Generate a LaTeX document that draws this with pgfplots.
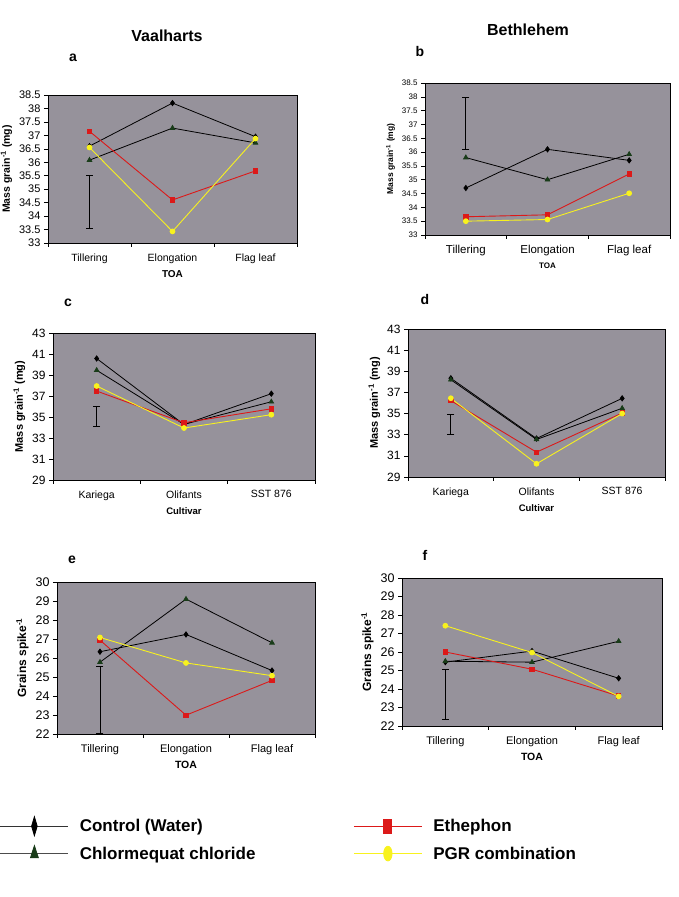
\documentclass[border=0pt]{standalone}
\usepackage{pgfplots}
\pgfplotsset{compat=1.18}
\usepackage{fontspec}
\setmainfont{Liberation Sans}
\definecolor{plotbg}{RGB}{150,146,155}
\definecolor{ethred}{RGB}{220,25,25}
\definecolor{pgryel}{RGB}{248,242,30}
\definecolor{ccdark}{RGB}{25,60,25}

\pgfplotsset{
  panel/.style={
    scale only axis, anchor=south west, clip=false,
    axis background/.style={fill=plotbg},
    axis line style={black, line width=0.7pt},
    xmin=-0.5, xmax=2.5,
    xtick={0,1,2},
    major x tick style={draw=none},
    minor xtick={-0.5,0.5,1.5,2.5},
    minor x tick style={black, line width=0.6pt},
    minor tick length=4pt,
    major tick length=4pt,
    tick align=outside, xtick pos=bottom, ytick pos=left,
    y tick style={black, line width=0.6pt},
    /pgf/number format/assume math mode=true,
    xticklabel style={yshift=-3pt},
  },
  ctrl/.style={black, line width=0.8pt, mark=diamond*, mark size=2.6pt, mark options={solid, fill=black}},
  cc/.style={black, line width=0.8pt, mark=triangle*, mark size=2.6pt, mark options={solid, fill=ccdark, draw=ccdark}},
  eth/.style={ethred, line width=0.9pt, mark=square*, mark size=2.2pt, mark options={solid, fill=ethred, draw=ethred}},
  pgr/.style={pgryel, line width=0.9pt, mark=*, mark size=2.4pt, mark options={solid, fill=pgryel, draw=pgryel}},
  errbar/.style={black, line width=0.8pt, mark=-, mark size=3.5pt, mark options={solid}},
}

\begin{document}
\begin{tikzpicture}
\useasboundingbox (0pt,0pt) rectangle (678pt,897pt);

% titles and letters
\node[font=\bfseries\fontsize{16}{19}\selectfont] at (167pt,861pt) {Vaalharts};
\node[font=\bfseries\fontsize{16}{19}\selectfont] at (528pt,867pt) {Bethlehem};
\node[font=\bfseries\fontsize{14}{16}\selectfont] at (73pt,839pt) {a};
\node[font=\bfseries\fontsize{14}{16}\selectfont] at (420pt,845pt) {b};
\node[font=\bfseries\fontsize{14}{16}\selectfont] at (68pt,594pt) {c};
\node[font=\bfseries\fontsize{14}{16}\selectfont] at (425pt,597pt) {d};
\node[font=\bfseries\fontsize{14}{16}\selectfont] at (72pt,337pt) {e};
\node[font=\bfseries\fontsize{14}{16}\selectfont] at (425pt,342pt) {f};

% panel a
\begin{axis}[panel, at={(48pt,654pt)}, width=249pt, height=148pt,
  ymin=33, ymax=38.5, ytick={33,33.5,34,34.5,35,35.5,36,36.5,37,37.5,38,38.5},
  xticklabels={Tillering,Elongation,Flag leaf},
  yticklabel style={font=\fontsize{11}{13}\selectfont},
  xticklabel style={font=\fontsize{10.5}{12}\selectfont},
  xlabel={\textbf{TOA}}, xlabel style={font=\fontsize{10}{12}\selectfont},
  ylabel={\textbf{Mass grain\textsuperscript{-1} (mg)}}, ylabel style={font=\fontsize{10.5}{12}\selectfont},
]
\addplot[ctrl] coordinates {(0,36.6) (1,38.2) (2,36.95)};
\addplot[cc] coordinates {(0,36.08) (1,37.27) (2,36.72)};
\addplot[eth] coordinates {(0,37.15) (1,34.6) (2,35.68)};
\addplot[pgr] coordinates {(0,36.55) (1,33.43) (2,36.88)};
\addplot[errbar] coordinates {(0,33.55) (0,35.5)};
\end{axis}

% panel b
\begin{axis}[panel, at={(425pt,662pt)}, width=245pt, height=152pt,
  ymin=33, ymax=38.5, ytick={33,33.5,34,34.5,35,35.5,36,36.5,37,37.5,38,38.5},
  xticklabels={Tillering,Elongation,Flag leaf},
  yticklabel style={font=\fontsize{8}{9}\selectfont},
  xticklabel style={font=\fontsize{11.5}{13}\selectfont},
  xlabel={\textbf{TOA}}, xlabel style={font=\fontsize{8}{9}\selectfont},
  ylabel={\textbf{Mass grain\textsuperscript{-1} (mg)}}, ylabel style={font=\fontsize{8.5}{10}\selectfont},
]
\addplot[ctrl] coordinates {(0,34.7) (1,36.1) (2,35.7)};
\addplot[cc] coordinates {(0,35.8) (1,35.0) (2,35.92)};
\addplot[eth] coordinates {(0,33.66) (1,33.73) (2,35.21)};
\addplot[pgr] coordinates {(0,33.5) (1,33.56) (2,34.51)};
\addplot[errbar] coordinates {(0,36.08) (0,37.98)};
\end{axis}

% panel c
\begin{axis}[panel, at={(53pt,417pt)}, width=262pt, height=147pt,
  ymin=29, ymax=43, ytick={29,31,33,35,37,39,41,43},
  xticklabels={Kariega,Olifants,SST 876},
  yticklabel style={font=\fontsize{12}{14}\selectfont},
  xticklabel style={font=\fontsize{10.5}{12}\selectfont},
  xlabel={\textbf{Cultivar}}, xlabel style={font=\fontsize{9.5}{11}\selectfont},
  ylabel={\textbf{Mass grain\textsuperscript{-1} (mg)}}, ylabel style={font=\fontsize{11}{13}\selectfont},
]
\addplot[ctrl] coordinates {(0,40.57) (1,34.28) (2,37.22)};
\addplot[cc] coordinates {(0,39.45) (1,34.3) (2,36.45)};
\addplot[eth] coordinates {(0,37.47) (1,34.45) (2,35.78)};
\addplot[pgr] coordinates {(0,37.95) (1,33.95) (2,35.22)};
\addplot[errbar] coordinates {(0,34.1) (0,36.04)};
\end{axis}

% panel d
\begin{axis}[panel, at={(408pt,420pt)}, width=257pt, height=148pt,
  ymin=29, ymax=43, ytick={29,31,33,35,37,39,41,43},
  xticklabels={Kariega,Olifants,SST 876},
  yticklabel style={font=\fontsize{12}{14}\selectfont},
  xticklabel style={font=\fontsize{10.5}{12}\selectfont},
  xlabel={\textbf{Cultivar}}, xlabel style={font=\fontsize{9.5}{11}\selectfont},
  ylabel={\textbf{Mass grain\textsuperscript{-1} (mg)}}, ylabel style={font=\fontsize{11}{13}\selectfont},
]
\addplot[ctrl] coordinates {(0,38.34) (1,32.64) (2,36.44)};
\addplot[cc] coordinates {(0,38.2) (1,32.55) (2,35.5)};
\addplot[eth] coordinates {(0,36.22) (1,31.35) (2,35.05)};
\addplot[pgr] coordinates {(0,36.45) (1,30.25) (2,35.0)};
\addplot[errbar] coordinates {(0,33.05) (0,34.9)};
\end{axis}

% panel e
\begin{axis}[panel, at={(57pt,163pt)}, width=258pt, height=152pt,
  ymin=22, ymax=30, ytick={22,23,24,25,26,27,28,29,30},
  xticklabels={Tillering,Elongation,Flag leaf},
  yticklabel style={font=\fontsize{12.5}{14}\selectfont},
  xticklabel style={font=\fontsize{11}{13}\selectfont},
  xlabel={\textbf{TOA}}, xlabel style={font=\fontsize{10.5}{12}\selectfont},
  ylabel={\textbf{Grains spike\textsuperscript{-1}}}, ylabel style={font=\fontsize{12}{14}\selectfont},
]
\addplot[ctrl] coordinates {(0,26.33) (1,27.24) (2,25.34)};
\addplot[cc] coordinates {(0,25.78) (1,29.1) (2,26.8)};
\addplot[eth] coordinates {(0,26.94) (1,22.99) (2,24.82)};
\addplot[pgr] coordinates {(0,27.08) (1,25.74) (2,25.07)};
\addplot[errbar] coordinates {(0,22.05) (0,25.55)};
\end{axis}

% panel f
\begin{axis}[panel, at={(402pt,171pt)}, width=260pt, height=148pt,
  ymin=22, ymax=30, ytick={22,23,24,25,26,27,28,29,30},
  xticklabels={Tillering,Elongation,Flag leaf},
  yticklabel style={font=\fontsize{12.5}{14}\selectfont},
  xticklabel style={font=\fontsize{11}{13}\selectfont},
  xlabel={\textbf{TOA}}, xlabel style={font=\fontsize{10.5}{12}\selectfont},
  ylabel={\textbf{Grains spike\textsuperscript{-1}}}, ylabel style={font=\fontsize{12}{14}\selectfont},
]
\addplot[ctrl] coordinates {(0,25.45) (1,26.05) (2,24.58)};
\addplot[cc] coordinates {(0,25.5) (1,25.45) (2,26.58)};
\addplot[eth] coordinates {(0,26.0) (1,25.07) (2,23.62)};
\addplot[pgr] coordinates {(0,27.42) (1,25.97) (2,23.6)};
\addplot[errbar] coordinates {(0,22.36) (0,25.05)};
\end{axis}

% legend
\begin{axis}[hide axis, scale only axis, anchor=south west, at={(0pt,0pt)},
  width=678pt, height=110pt, xmin=0, xmax=1, ymin=0, ymax=1,
  legend columns=2,
  legend cell align=left,
  legend image code/.code={\draw[mark repeat=2, mark phase=2] plot coordinates {(0pt,0pt) (34pt,0pt) (68pt,0pt)};},
  legend style={at={(0,0.73)}, anchor=north west, draw=none, fill=none, inner sep=0pt, outer sep=0pt,
    font=\bfseries\fontsize{17}{20}\selectfont,
    /tikz/every odd column/.append style={column sep=9pt},
    /tikz/every even column/.append style={column sep=96pt},
    row sep=9pt},
]
\addlegendimage{black!80, line width=0.8pt, mark=diamond*, mark size=5pt, mark options={solid, fill=black, draw=black, xscale=0.75, yscale=1.9}}
\addlegendentry{Control (Water)}
\addlegendimage{ethred, line width=0.8pt, mark=square*, mark size=4pt, mark options={solid, fill=ethred, draw=ethred, yscale=1.75}}
\addlegendentry{Ethephon}
\addlegendimage{black!70, line width=0.8pt, mark=triangle*, mark size=5pt, mark options={solid, fill=ccdark, draw=ccdark, xscale=0.9, yscale=1.6}}
\addlegendentry{Chlormequat chloride}
\addlegendimage{pgryel, line width=0.8pt, mark=*, mark size=4.2pt, mark options={solid, fill=pgryel, draw=pgryel, yscale=1.75}}
\addlegendentry{PGR combination}
\end{axis}
\end{tikzpicture}
\end{document}
